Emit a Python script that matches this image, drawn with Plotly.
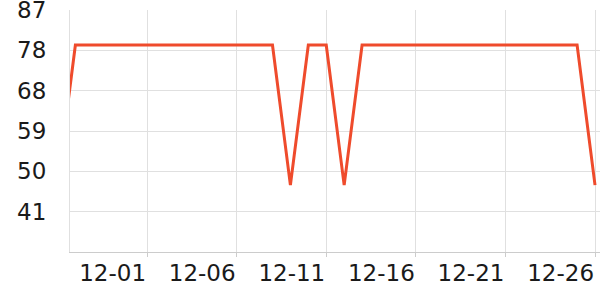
import plotly.graph_objects as go
import pandas as pd

dates = pd.date_range("2024-11-26", "2024-12-26", freq="D").strftime("%Y-%m-%d").tolist()
values = [47] + [79] * 12 + [47, 79, 79, 47] + [79] * 13 + [47]

y_tickvals = [40.92, 50.13, 59.35, 68.57, 77.78, 87.0]
y_ticktext = ["41", "50", "59", "68", "78", "87"]

fig = go.Figure()
fig.add_trace(go.Scatter(
    x=dates, y=values, mode="lines",
    line=dict(color="#ef4b2c", width=3),
    hoverinfo="skip",
))

font = dict(family="DejaVu Sans", size=23, color="#1a1a1a")

fig.update_layout(
    width=600, height=300,
    margin=dict(l=70, r=0, t=10, b=48, autoexpand=False),
    paper_bgcolor="white", plot_bgcolor="white",
    showlegend=False,
    xaxis=dict(
        type="date",
        automargin=False,
        range=["2024-11-26 16:48", "2024-12-26 06:40"],
        tick0="2024-12-01", dtick=5 * 86400000,
        tickformat="%m-%d",
        ticklabelposition="outside left",
        ticklabeloverflow="allow",
        ticks="outside", ticklen=4, tickcolor="#cccccc",
        showgrid=True, gridcolor="#e0e0e0", gridwidth=1,
        showline=True, linecolor="#cccccc", linewidth=1,
        zeroline=False,
        tickfont=font,
    ),
    yaxis=dict(
        automargin=False,
        range=[31.7, 87.02],
        tickvals=y_tickvals, ticktext=y_ticktext,
        ticklabeloverflow="allow",
        showgrid=True, gridcolor="#e0e0e0", gridwidth=1,
        showline=True, linecolor="#e0e0e0", linewidth=1,
        zeroline=False,
        ticks="",
        ticklabelstandoff=18,
        tickfont=font,
    ),
)

fig.write_html("out.html")
